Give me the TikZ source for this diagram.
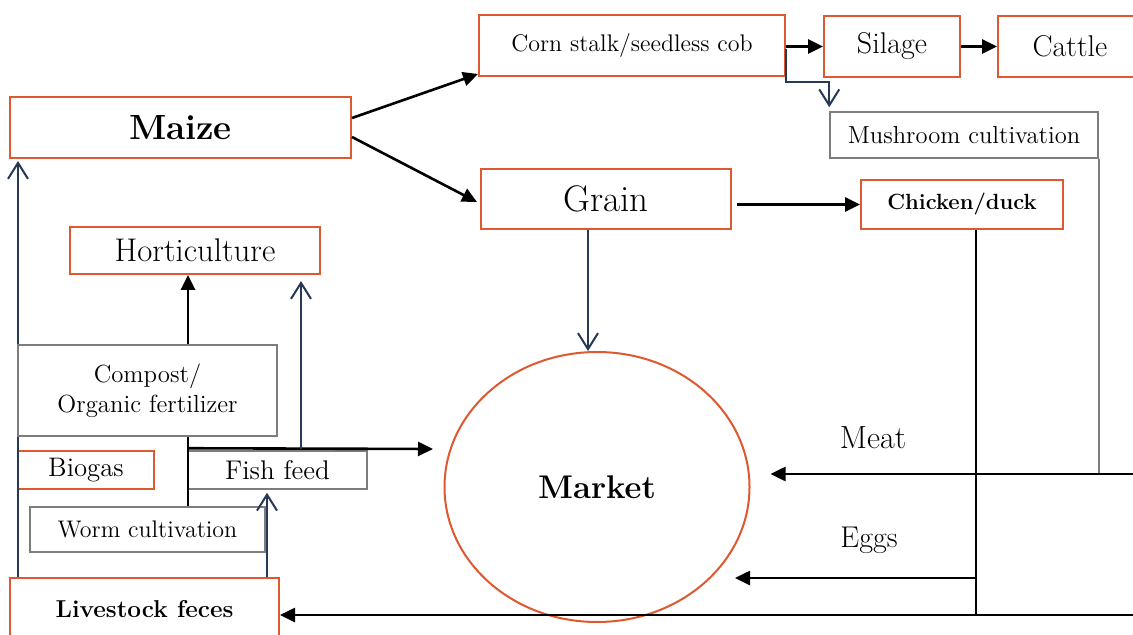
\documentclass[tikz,border=0pt]{standalone}
\usepackage{tikz}
\usetikzlibrary{arrows.meta,shapes.geometric}
\definecolor{boxorange}{RGB}{222,88,48}
\definecolor{linknavy}{RGB}{38,58,88}
\definecolor{boxgray}{RGB}{125,125,125}
\tikzset{
    orange-box/.style = {draw=boxorange, fill=white, line width=1pt, rectangle, inner sep=0pt},
    gray-box/.style = {draw=boxgray, fill=white, line width=0.75pt, rectangle, inner sep=0pt},
    black-line/.style = {draw=black, line width=1.3pt},
    black-arrow/.style = {black-line, -{Triangle[length=7.5pt,width=7pt]}},
    navy-arrow/.style = {draw=linknavy, line width=1pt, -{Straight Barb[length=8pt,width=10pt]}},
    gray-line/.style = {draw=boxgray, line width=0.8pt},
}
\newcommand{\fsz}[1]{\fontsize{#1pt}{#1pt}\selectfont}

\begin{document}
\begin{tikzpicture}[x=0.5pt,y=-0.5pt]
\path[use as bounding box] (0,0) rectangle (1133,635);
\clip (0,0) rectangle (1133,635);

% boxes
\node[orange-box, minimum width=170.5pt, minimum height=30.5pt, font=\bfseries\fsz{17.5}] (maize) at (180.5,127.5) {Maize};
\node[orange-box, minimum width=153pt, minimum height=30.5pt, font=\fsz{12}] (cornstalk) at (632,45.5) {Corn stalk/seedless cob};
\node[orange-box, minimum width=68pt, minimum height=30.5pt, font=\fsz{15}] (silage) at (892,46.5) {Silage};
\node[orange-box, minimum width=72pt, minimum height=30.5pt, font=\fsz{15}] (cattle) at (1070,46.5) {Cattle};
\node[gray-box, minimum width=134pt, minimum height=23pt, font=\fsz{12.3}] (mushroom) at (964,135) {Mushroom cultivation};
\node[orange-box, minimum width=125pt, minimum height=30pt, font=\fsz{18.5}] (grain) at (606,199) {Grain};
\node[orange-box, minimum width=101pt, minimum height=24.5pt, font=\bfseries\fsz{11}] (chicken) at (962,204.5) {Chicken/duck};
\node[orange-box, minimum width=125pt, minimum height=23.5pt, font=\fsz{16.4}] (horticulture) at (195,250.5) {Horticulture};
\node[orange-box, minimum width=68pt, minimum height=19pt, font=\fsz{13.4}] (biogas) at (86,470) {Biogas};
\node[gray-box, minimum width=89.5pt, minimum height=19pt, font=\fsz{13.5}] (fishfeed) at (277.5,470) {Fish feed};
\node[gray-box, minimum width=117.5pt, minimum height=22.5pt, font=\fsz{12}] (worm) at (147.5,529.5) {Worm cultivation};
\node[orange-box, minimum width=134.5pt, minimum height=31pt, font=\bfseries\fsz{12.2}] (livestock) at (144.5,609) {Livestock feces};
\node[ellipse, draw=boxorange, line width=1pt, inner sep=0pt, minimum width=152.5pt, minimum height=135pt, font=\bfseries\fsz{16.4}] (market) at (597,487) {Market};
\node[font=\fsz{16}] (meat-label) at (873,438) {Meat};
\node[font=\fsz{15}] (eggs-label) at (869,540) {Eggs};

% free ends
\coordinate (meat-in) at (1133,474);
\coordinate (feces-in) at (1133,615);
\coordinate (egg-tip) at (735,578);
\coordinate (fish-tip) at (433,449);
\coordinate (chicken-leg) at ([xshift=7pt]chicken.south);
\coordinate (trunk) at ([xshift=20.25pt]worm.north);

% maize chain
\draw[black-arrow] ([yshift=4.75pt]maize.east) -- ([yshift=1.5pt]cornstalk.south west);
\draw[black-arrow] ([yshift=-4.75pt]maize.east) -- ([shift={(-1.5pt,-1.5pt)}]grain.west);
\draw[black-arrow] (cornstalk.east |- silage.west) -- (silage.west);
\draw[black-arrow] (silage.east) -- (cattle.west);
\draw[navy-arrow] ([yshift=-2pt]cornstalk.east) |- ([yshift=14.5pt]mushroom.north west) -- ([yshift=2pt]mushroom.north west);
\draw[navy-arrow] ([xshift=-9pt]grain.south) -- ([xshift=-9pt]grain.south |- market.north);
\draw[black-arrow] ([xshift=2.5pt]grain.east |- chicken.west) -- (chicken.west);

% right side to market
\draw[gray-line] (mushroom.south east) -- (mushroom.south east |- meat-in);
\draw[black-line] (chicken-leg) -- (chicken-leg |- feces-in);
\draw[black-arrow] (meat-in) -- ([shift={(10pt,6.5pt)}]market.east);
\draw[black-arrow] (chicken-leg |- egg-tip) -- (egg-tip);
\draw[black-arrow] (feces-in) -- (livestock.east |- feces-in);

% feces uses
\draw[navy-arrow, shorten >=1pt] ([xshift=4.5pt]livestock.north west) -- ([xshift=4.5pt]livestock.north west |- maize.south);
\draw[navy-arrow, shorten >=1.5pt] ([xshift=-6.5pt]livestock.north east) -- ([xshift=-6.5pt]livestock.north east |- fishfeed.south);
\node[gray-box, minimum width=129.5pt, minimum height=45.5pt, font=\fontsize{12.4pt}{15pt}\selectfont, align=center] (compost) at (147.5,390.5) {Compost/\\Organic fertilizer};
\draw[black-line] (trunk) -- (trunk |- compost.south);
\draw[black-arrow] (trunk |- compost.north) -- (trunk |- horticulture.south);
\draw[black-arrow] ([yshift=1pt]trunk |- fishfeed.north) -- (fish-tip);
\draw[navy-arrow] ([xshift=-10pt]horticulture.south east |- fish-tip) -- ([xshift=-10pt,yshift=-3pt]horticulture.south east);
\end{tikzpicture}
\end{document}
